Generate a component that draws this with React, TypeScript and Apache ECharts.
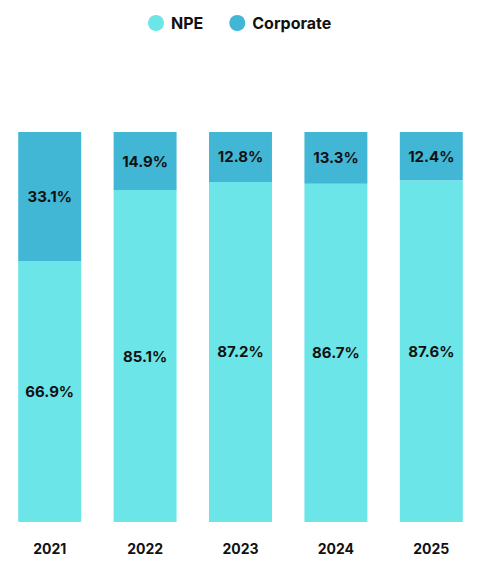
import React, { useEffect, useRef } from "react";
import * as echarts from "echarts";

const categories = ["2021", "2022", "2023", "2024", "2025"];
const npe = [66.9, 85.1, 87.2, 86.7, 87.6];
const corporate = [33.1, 14.9, 12.8, 13.3, 12.4];

export default function App() {
  const ref = useRef<HTMLDivElement>(null);
  useEffect(() => {
    const chart = echarts.init(ref.current!, null, { renderer: "svg" });
    const font = "Inter, 'Noto Sans', sans-serif";
    const label = {
      show: true,
      position: "inside",
      color: "#111",
      fontSize: 15,
      fontWeight: "bold",
      fontFamily: font,
      formatter: (p: any) => p.value.toFixed(1) + "%",
    };
    chart.setOption({
      animation: false,
      legend: {
        top: 10,
        left: 143,
        icon: "circle",
        itemWidth: 16,
        itemHeight: 16,
        itemGap: 26,
        textStyle: { fontSize: 16, fontWeight: "bold", color: "#111", fontFamily: font, padding: [0, 0, 0, 2] },
        data: ["NPE", "Corporate"],
      },
      grid: { left: 2, right: 4, top: 132, bottom: 54, containLabel: false },
      xAxis: {
        type: "category",
        data: categories,
        axisLine: { show: false },
        axisTick: { show: false },
        axisLabel: { margin: 19, fontSize: 14, fontWeight: "bold", color: "#111", fontFamily: font },
      },
      yAxis: { type: "value", min: 0, max: 100, show: false, splitLine: { show: false } },
      series: [
        {
          name: "NPE",
          type: "bar",
          stack: "a",
          barCategoryGap: "34%",
          itemStyle: { color: "#6be5e8" },
          label,
          data: npe,
        },
        {
          name: "Corporate",
          type: "bar",
          stack: "a",
          barCategoryGap: "34%",
          itemStyle: { color: "#42b7d5" },
          label,
          data: corporate,
        },
      ],
    });
    return () => chart.dispose();
  }, []);
  return <div ref={ref} style={{ width: 483, height: 576, position: "absolute", left: 0, top: 0 }} />;
}
